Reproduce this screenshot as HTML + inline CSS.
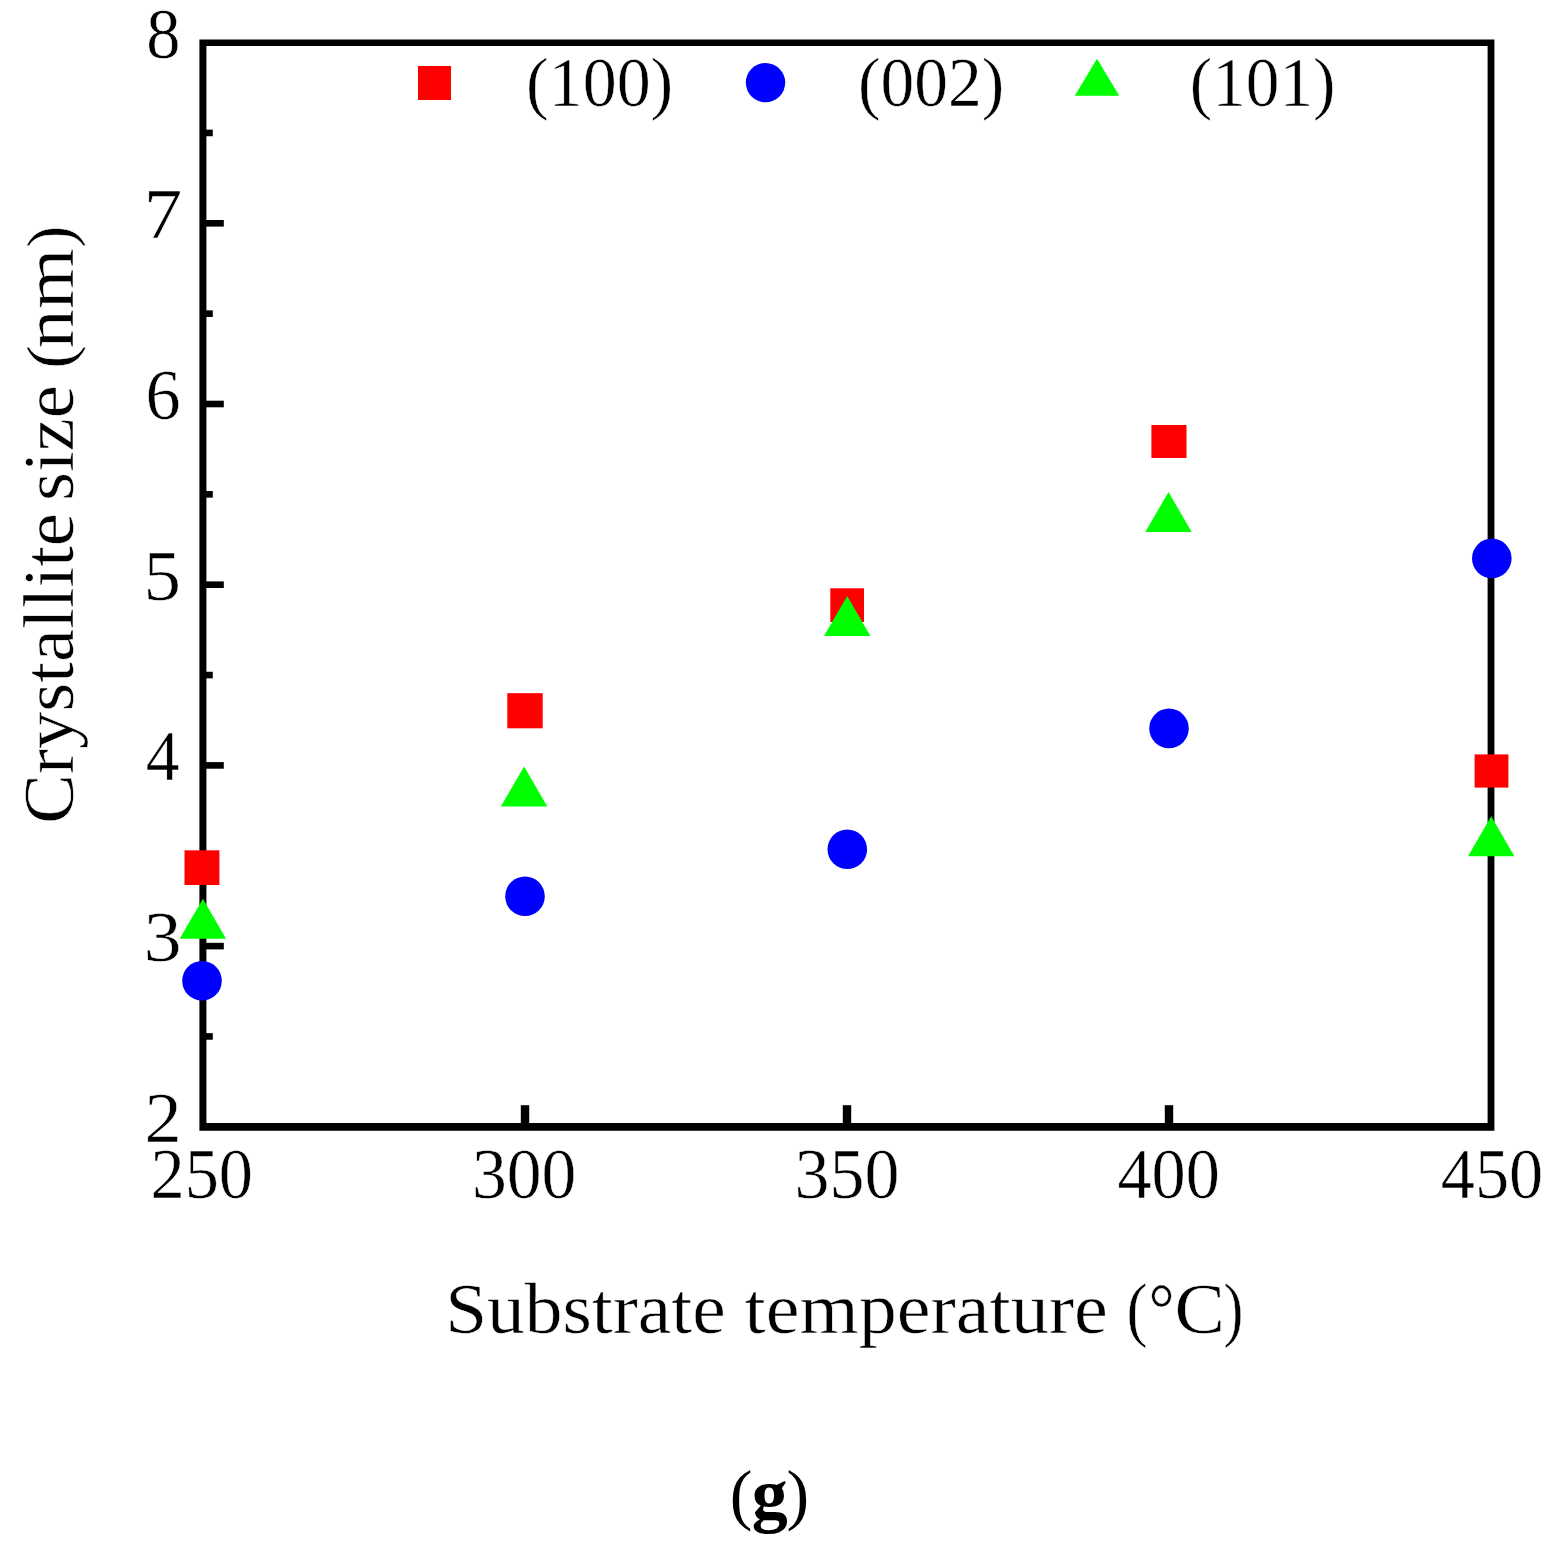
<!DOCTYPE html>
<html lang="en">
<head>
<meta charset="utf-8">
<title>Crystallite size (nm) vs Substrate temperature (°C)</title>
<style>html,body{margin:0;padding:0;background:#fff}body{width:1562px;height:1549px;overflow:hidden}</style>
</head>
<body>
<svg width="1562" height="1549" viewBox="0 0 1562 1549" role="img" aria-label="Crystallite size versus substrate temperature" style="display:block">
<rect width="1562" height="1549" fill="#fff"/>
<g fill="#000">
<path fill-rule="evenodd" d="M199.4 39.4H1494.4V1130.8H199.4Z M206.4 45.9V1123.0H1487.6V45.9Z"/>
<rect x="201.4" y="1033.15" width="11.40" height="6.6"/>
<rect x="201.4" y="942.80" width="22.40" height="6.6"/>
<rect x="201.4" y="852.45" width="11.40" height="6.6"/>
<rect x="201.4" y="762.10" width="22.40" height="6.6"/>
<rect x="201.4" y="671.75" width="11.40" height="6.6"/>
<rect x="201.4" y="581.40" width="22.40" height="6.6"/>
<rect x="201.4" y="491.05" width="11.40" height="6.6"/>
<rect x="201.4" y="400.70" width="22.40" height="6.6"/>
<rect x="201.4" y="310.35" width="11.40" height="6.6"/>
<rect x="201.4" y="220.00" width="22.40" height="6.6"/>
<rect x="201.4" y="129.65" width="11.40" height="6.6"/>
<rect x="520.80" y="1105.2" width="8.4" height="22"/>
<rect x="842.80" y="1105.2" width="8.4" height="22"/>
<rect x="1164.80" y="1105.2" width="8.4" height="22"/>
</g>
<g>
<rect x="184.50" y="850.30" width="34.90" height="34.70" fill="#f00"/>
<rect x="507.30" y="693.20" width="35.40" height="35.10" fill="#f00"/>
<rect x="830.30" y="588.30" width="33.70" height="33.70" fill="#f00"/>
<rect x="1151.40" y="425.00" width="35.10" height="33.00" fill="#f00"/>
<rect x="1474.60" y="754.40" width="33.80" height="33.20" fill="#f00"/>
<circle cx="202.00" cy="980.80" r="19.8" fill="#00f"/>
<circle cx="525.00" cy="896.30" r="19.8" fill="#00f"/>
<circle cx="847.30" cy="849.30" r="19.8" fill="#00f"/>
<circle cx="1169.00" cy="728.40" r="19.8" fill="#00f"/>
<circle cx="1491.80" cy="558.40" r="19.8" fill="#00f"/>
<polygon points="179.70,938.80 226.10,938.80 202.90,898.80" fill="#0f0"/>
<polygon points="500.90,806.40 547.30,806.40 524.10,766.40" fill="#0f0"/>
<polygon points="824.00,636.00 870.40,636.00 847.20,596.00" fill="#0f0"/>
<polygon points="1145.30,532.00 1191.70,532.00 1168.50,492.00" fill="#0f0"/>
<polygon points="1468.00,856.30 1514.40,856.30 1491.20,816.30" fill="#0f0"/>
</g>
<g>
<rect x="418.00" y="66.00" width="33" height="34" fill="#f00"/>
<circle cx="765.50" cy="82.60" r="19.7" fill="#00f"/>
<polygon points="1074.75,95.80 1119.25,95.80 1097.00,58.80" fill="#0f0"/>
</g>
<g font-family="'Liberation Serif', serif" font-size="70" fill="#000" stroke="#fff" stroke-width="0.5">
<text x="526.09" y="106.2" textLength="147.16" lengthAdjust="spacingAndGlyphs">(100)</text>
<text x="858.11" y="106.2" textLength="146.12" lengthAdjust="spacingAndGlyphs">(002)</text>
<text x="1189.72" y="106.2" textLength="145.81" lengthAdjust="spacingAndGlyphs">(101)</text>
</g>
<g font-family="'Liberation Serif', serif" font-size="72" fill="#000" stroke="#fff" stroke-width="0.5">
<text x="146.15" y="57.60" textLength="34.20" lengthAdjust="spacingAndGlyphs">8</text>
<text x="143.66" y="238.30" textLength="38.48" lengthAdjust="spacingAndGlyphs">7</text>
<text x="145.58" y="419.00" textLength="35.07" lengthAdjust="spacingAndGlyphs">6</text>
<text x="143.43" y="599.70" textLength="37.49" lengthAdjust="spacingAndGlyphs">5</text>
<text x="145.86" y="780.40" textLength="33.78" lengthAdjust="spacingAndGlyphs">4</text>
<text x="143.85" y="961.10" textLength="37.80" lengthAdjust="spacingAndGlyphs">3</text>
<text x="144.40" y="1141.80" textLength="37.24" lengthAdjust="spacingAndGlyphs">2</text>
<text x="150.55" y="1197.9" textLength="102.49" lengthAdjust="spacingAndGlyphs">250</text>
<text x="471.90" y="1197.9" textLength="104.40" lengthAdjust="spacingAndGlyphs">300</text>
<text x="794.59" y="1197.9" textLength="104.82" lengthAdjust="spacingAndGlyphs">350</text>
<text x="1117.45" y="1197.9" textLength="102.39" lengthAdjust="spacingAndGlyphs">400</text>
<text x="1440.75" y="1197.9" textLength="102.39" lengthAdjust="spacingAndGlyphs">450</text>
</g>
<g font-family="'Liberation Serif', serif" fill="#000" stroke="#fff" stroke-width="0.5">
<text y="1333" font-size="71"><tspan x="445.19" textLength="280.50" lengthAdjust="spacingAndGlyphs">Substrate</tspan> <tspan x="744.63" textLength="363.15" lengthAdjust="spacingAndGlyphs">temperature</tspan> <tspan x="1126.53" textLength="21.03" lengthAdjust="spacingAndGlyphs">(</tspan><tspan x="1148.55" textLength="26.08" lengthAdjust="spacingAndGlyphs">°</tspan><tspan x="1174.50" textLength="50.48" lengthAdjust="spacingAndGlyphs">C</tspan><tspan x="1223.62" textLength="19.92" lengthAdjust="spacingAndGlyphs">)</tspan></text>
<text transform="translate(73.2,0) rotate(-90)" y="0" font-size="71"><tspan x="-823.65" textLength="310.59" lengthAdjust="spacingAndGlyphs">Crystallite</tspan> <tspan x="-500.95" textLength="115.75" lengthAdjust="spacingAndGlyphs">size</tspan> <tspan x="-369.14" font-size="65" dy="-1.2" textLength="24.08" lengthAdjust="spacingAndGlyphs">(</tspan><tspan x="-348.41" dy="1.2" textLength="100.12" lengthAdjust="spacingAndGlyphs">nm</tspan><tspan x="-248.07" font-size="65" dy="-1.2" textLength="22.42" lengthAdjust="spacingAndGlyphs">)</tspan></text>
</g>
<g font-family="'Liberation Serif', serif" fill="#000">
<text y="1517.2" font-size="68"><tspan x="729.70">(</tspan><tspan x="751.80" dy="2" font-size="72" font-weight="bold">g</tspan><tspan x="786.40" dy="-2">)</tspan></text>
</g>
</svg>
</body>
</html>
